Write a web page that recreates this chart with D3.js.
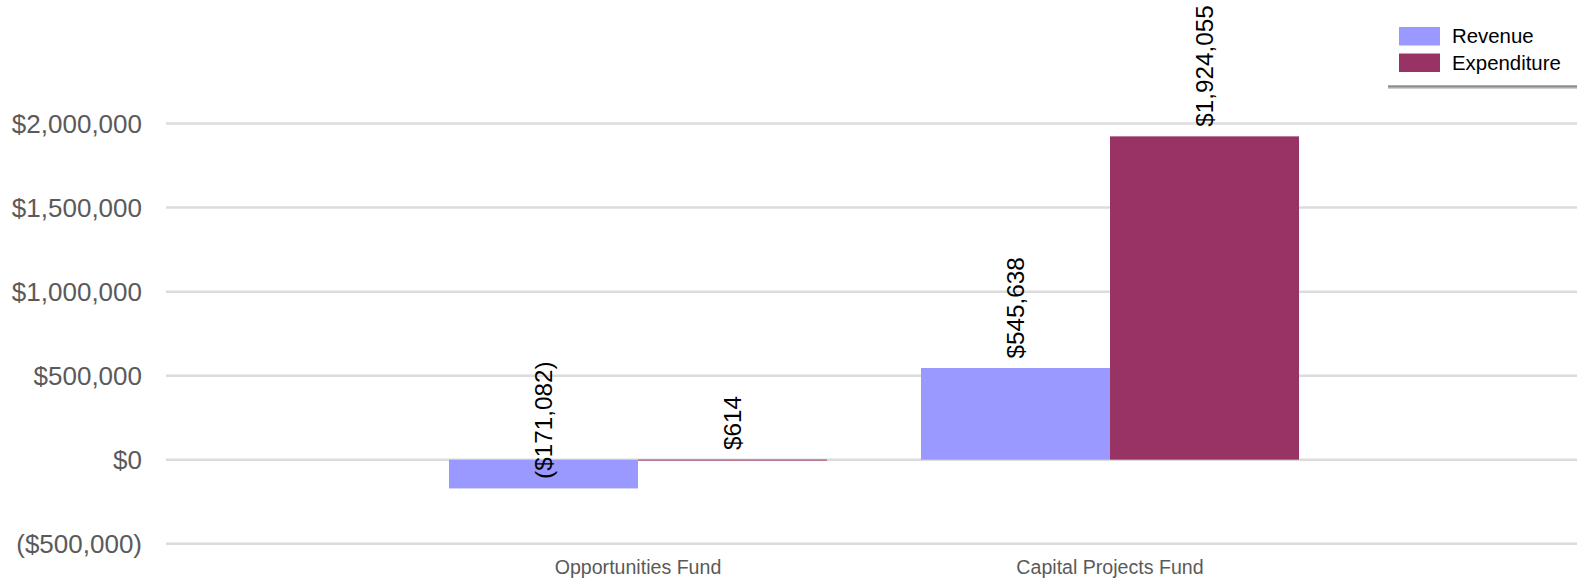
<!DOCTYPE html>
<html>
<head>
<meta charset="utf-8">
<script src="https://cdn.jsdelivr.net/npm/d3@7"></script>
<style>
  html, body { margin: 0; padding: 0; background: #fff; }
  svg { display: block; font-family: Arial, "Liberation Sans", sans-serif; }
</style>
</head>
<body>
<svg id="chart" width="1577" height="581"></svg>
<script>
const categories = ["Opportunities Fund", "Capital Projects Fund"];
const seriesNames = ["Revenue", "Expenditure"];
const revenue = [-171082, 545638];
const expenditure = [614, 1924055];
const seriesColors = ["#9999ff", "#993366"];
const yTicks = [-500000, 0, 500000, 1000000, 1500000, 2000000];

const W = 1577, H = 581;
const svg = d3.select("#chart");

const plotLeft = 166, plotRight = 1582;
const y = d3.scaleLinear().domain([-500000, 2000000]).range([543.7, 123.6]);
const x = d3.scalePoint().domain(categories).range([plotLeft, plotRight]).padding(1);
const groupWidth = 378;
const xs = d3.scaleBand().domain(seriesNames).range([-groupWidth / 2, groupWidth / 2]).padding(0);

const fmt = v => {
  const s = "$" + d3.format(",")(Math.abs(v));
  return v < 0 ? "(" + s + ")" : s;
};

// gridlines
svg.append("g").selectAll("line").data(yTicks).join("line")
  .attr("x1", plotLeft).attr("x2", W)
  .attr("y1", d => y(d)).attr("y2", d => y(d))
  .attr("stroke", "#dcdcdc").attr("stroke-width", 2.5);

// y axis labels
svg.append("g").selectAll("text").data(yTicks).join("text")
  .attr("x", 142).attr("y", d => y(d)).attr("dy", "0.35em")
  .attr("text-anchor", "end")
  .attr("font-size", 26).attr("fill", "#5a5a5a")
  .text(fmt);

// bars
const rows = categories.map((c, i) => ({ cat: c, values: [revenue[i], expenditure[i]] }));
const groups = svg.append("g").selectAll("g").data(rows).join("g")
  .attr("transform", d => `translate(${x(d.cat)},0)`);

groups.selectAll("rect").data(d => d.values.map((v, j) => ({ v, s: seriesNames[j], j })))
  .join("rect")
  .attr("x", d => xs(d.s))
  .attr("width", xs.bandwidth())
  .attr("y", d => Math.min(y(d.v), y(0)))
  .attr("height", d => Math.max(1, Math.abs(y(d.v) - y(0))))
  .attr("fill", d => seriesColors[d.j]);

// value labels
groups.selectAll("text.val").data(d => d.values.map((v, j) => ({ v, s: seriesNames[j], j })))
  .join("text").attr("class", "val")
  .attr("transform", d => `translate(${xs(d.s) + xs.bandwidth() / 2},${y(d.v) - 9.5}) rotate(-90)`)
  .attr("dy", "0.35em")
  .attr("text-anchor", "start")
  .attr("font-size", 24.3).attr("fill", "#000")
  .text(d => fmt(d.v));

// x axis labels
svg.append("g").selectAll("text").data(categories).join("text")
  .attr("x", d => x(d)).attr("y", 574)
  .attr("text-anchor", "middle")
  .attr("font-size", 19.6).attr("fill", "#5a5a5a")
  .text(d => d);

// legend
const legend = svg.append("g");
seriesNames.forEach((s, i) => {
  legend.append("rect").attr("x", 1399).attr("y", 27 + i * 26.5).attr("width", 41).attr("height", 18.5)
    .attr("fill", seriesColors[i]);
  legend.append("text").attr("x", 1452).attr("y", 36 + i * 26.5).attr("dy", "0.35em")
    .attr("font-size", 20.4).attr("fill", "#000").text(s);
});
legend.append("line").attr("x1", 1388).attr("x2", W).attr("y1", 87).attr("y2", 87)
  .attr("stroke", "#cfcfcf").attr("stroke-width", 4);
legend.append("line").attr("x1", 1388).attr("x2", W).attr("y1", 86.5).attr("y2", 86.5)
  .attr("stroke", "#8c8c8c").attr("stroke-width", 2);
</script>
</body>
</html>
